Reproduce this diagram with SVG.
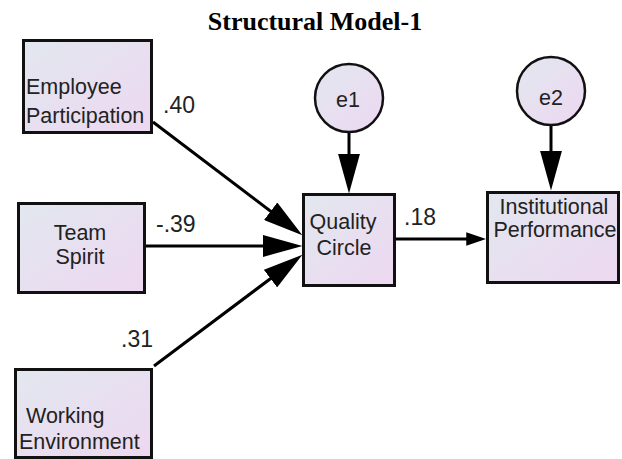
<svg xmlns="http://www.w3.org/2000/svg" width="622" height="459" viewBox="0 0 622 459">
<style>
.box{stroke:#111;stroke-width:3;fill:url(#g)}
.circ{stroke:#111;stroke-width:2.5;fill:url(#g)}
.lbl{font-family:"Liberation Sans",Arial,sans-serif;font-size:21.5px;fill:#222}
.coef{font-family:"Liberation Sans",Arial,sans-serif;font-size:23px;fill:#222}
.title{font-family:"Liberation Serif","Times New Roman",serif;font-size:26px;font-weight:bold;fill:#000}
.edge{stroke:#000;stroke-width:3;fill:none}
</style>
<defs>
<linearGradient id="g" x1="0" y1="0" x2="1" y2="1">
<stop offset="0" stop-color="#e2e7ef"/>
<stop offset="1" stop-color="#edd8f1"/>
</linearGradient>
<marker id="big" markerUnits="userSpaceOnUse" markerWidth="40" markerHeight="22" viewBox="0 0 38 21" refX="28" refY="10.5" orient="auto">
<path d="M0,0 L38,10.5 L0,21 z" fill="#000"/>
</marker>
<marker id="small" markerUnits="userSpaceOnUse" markerWidth="20" markerHeight="14" viewBox="0 0 19 13" refX="14" refY="6.5" orient="auto">
<path d="M0,0 L19,6.5 L0,13 z" fill="#000"/>
</marker>
</defs>
<rect width="622" height="459" fill="#fff"/>
<text class="title" x="315" y="30" text-anchor="middle">Structural Model-1</text>
<g id="connectors">
<line class="edge" x1="153" y1="122" x2="294" y2="229" marker-end="url(#big)"/>
<line class="edge" x1="146" y1="246" x2="292" y2="246" marker-end="url(#big)"/>
<line class="edge" x1="154" y1="366" x2="294" y2="261" marker-end="url(#big)"/>
<line class="edge" x1="349" y1="132" x2="349" y2="183" marker-end="url(#big)"/>
<line class="edge" x1="551" y1="125" x2="551" y2="180" marker-end="url(#big)"/>
<line class="edge" x1="396" y1="239" x2="481" y2="239" marker-end="url(#small)"/>
<text class="coef" x="163" y="113">.40</text>
<text class="coef" x="156" y="232">-.39</text>
<text class="coef" x="121" y="347">.31</text>
<text class="coef" x="404" y="225">.18</text>
</g>
<g id="employee-participation">
<rect class="box" x="23.5" y="40.5" width="128" height="92"/>
<text class="lbl" x="26" y="94">Employee</text>
<text class="lbl" x="26" y="123">Participation</text>
</g>
<g id="team-spirit">
<rect class="box" x="18.5" y="203.5" width="126" height="89"/>
<text class="lbl" x="80" y="240" text-anchor="middle" font-size="20.5">Team</text>
<text class="lbl" x="80" y="264" text-anchor="middle" font-size="20.5">Spirit</text>
</g>
<g id="working-environment">
<rect class="box" x="15.5" y="369.5" width="136" height="88"/>
<text class="lbl" x="26" y="423">Working</text>
<text class="lbl" x="19" y="449">Environment</text>
</g>
<g id="quality-circle">
<rect class="box" x="303.5" y="194.5" width="91" height="91"/>
<text class="lbl" x="343" y="229" text-anchor="middle">Quality</text>
<text class="lbl" x="344" y="255" text-anchor="middle">Circle</text>
</g>
<g id="institutional-performance">
<rect class="box" x="487.5" y="192.5" width="131" height="90"/>
<text class="lbl" x="554" y="214" text-anchor="middle" font-size="18.5">Institutional</text>
<text class="lbl" x="555" y="237" text-anchor="middle" font-size="18.5">Performance</text>
</g>
<g id="e1">
<circle class="circ" cx="349" cy="98" r="34"/>
<text class="lbl" x="348" y="107" text-anchor="middle" font-size="28">e1</text>
</g>
<g id="e2">
<circle class="circ" cx="551" cy="91" r="34"/>
<text class="lbl" x="551" y="105" text-anchor="middle" font-size="28">e2</text>
</g>
</svg>
